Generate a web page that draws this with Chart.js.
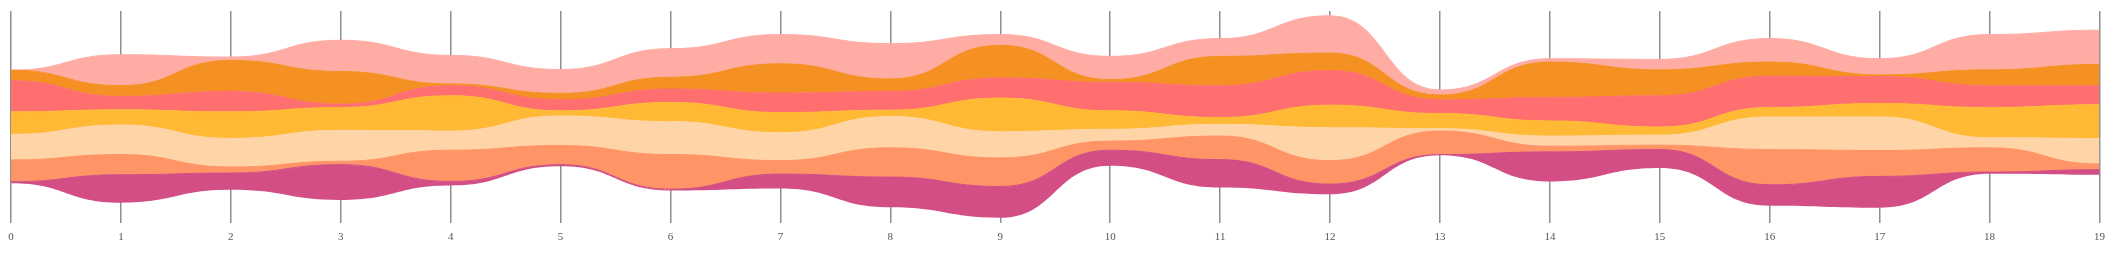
<!DOCTYPE html>
<html>
<head>
<meta charset="utf-8">
<title>Streamgraph</title>
<script src="https://cdn.jsdelivr.net/npm/chart.js@4.4.1/dist/chart.umd.min.js"></script>
<style>
  html, body { margin: 0; padding: 0; background: #ffffff; }
  #wrap { width: 2113px; height: 269px; }
</style>
</head>
<body>
<div id="wrap"><canvas id="streamChart" width="2113" height="269"></canvas></div>
<script>
// Datos del streamgraph (grosor de cada capa)
const categories = [0, 1, 2, 3, 4, 5, 6, 7, 8, 9, 10, 11, 12, 13, 14, 15, 16, 17, 18, 19];

// Desplazamiento inferior de la corriente (offset tipo "wiggle")
const baseline = [118, 60, 98, 68, 111, 168, 96, 102, 46, 15, 170, 105, 85, 201, 123, 163, 51, 45, 146, 143];

// Capas, de abajo hacia arriba
const magenta = [4, 83, 50, 105, 12, 5, 4, 43, 90, 93, 46, 83, 30, 2, 88, 55, 62, 93, 5, 15];
const salmon = [65, 60, 18, 10, 93, 57, 103, 40, 87, 85, 27, 70, 70, 70, 17, 13, 105, 77, 72, 17];
const peach = [76, 88, 85, 92, 57, 88, 98, 83, 93, 78, 35, 35, 98, 7, 30, 30, 97, 100, 30, 76];
const yellow = [67, 45, 79, 68, 105, 15, 57, 60, 19, 100, 55, 20, 67, 45, 45, 24, 28, 40, 90, 100];
const coral = [93, 40, 61, 10, 30, 33, 40, 58, 56, 60, 85, 95, 103, 41, 70, 93, 93, 80, 65, 57];
const orange = [31, 32, 92, 97, 5, 19, 35, 87, 37, 97, 8, 87, 52, 14, 105, 77, 42, 5, 47, 63];
const pink = [0, 92, 10, 93, 85, 71, 85, 87, 105, 32, 69, 53, 111, 15, 10, 31, 70, 48, 105, 102];

const layers = [
  { name: "magenta", data: magenta, color: "#d34e85" },
  { name: "salmon", data: salmon, color: "#ff9567" },
  { name: "peach", data: peach, color: "#ffd4a6" },
  { name: "yellow", data: yellow, color: "#ffb934" },
  { name: "coral", data: coral, color: "#ff6f6f" },
  { name: "orange", data: orange, color: "#f49122" },
  { name: "pink", data: pink, color: "#ffada4" },
];

// Convertir a puntos {x, y}
function toPoints(values) {
  return values.map((v, i) => ({ x: categories[i], y: v }));
}

// Plugin: curvas tipo "bump" (tangente horizontal en cada punto)
const bumpCurve = {
  id: "bumpCurve",
  beforeDatasetsDraw(chart) {
    chart.getSortedVisibleDatasetMetas().forEach((meta) => {
      const line = meta.dataset;
      if (!line) return;
      line.updateControlPoints(chart.chartArea, "x");
      const pts = meta.data;
      for (let i = 0; i < pts.length; i++) {
        const p = pts[i];
        const prev = pts[i - 1];
        const next = pts[i + 1];
        p.cp1x = prev ? (prev.x + p.x) / 2 : p.x;
        p.cp1y = p.y;
        p.cp2x = next ? (next.x + p.x) / 2 : p.x;
        p.cp2y = p.y;
      }
    });
  },
};

// Datasets: primero la línea base invisible, luego las capas apiladas
const datasets = [
  {
    label: "base",
    data: toPoints(baseline),
    borderWidth: 0,
    pointRadius: 0,
    fill: false,
    tension: 0.4,
  },
];

layers.forEach((layer) => {
  datasets.push({
    label: layer.name,
    data: toPoints(layer.data),
    backgroundColor: layer.color,
    borderColor: layer.color,
    borderWidth: 1,
    pointRadius: 0,
    fill: "-1",
    tension: 0.4,
  });
});

new Chart(document.getElementById("streamChart"), {
  type: "line",
  data: { datasets: datasets },
  plugins: [bumpCurve],
  options: {
    responsive: false,
    animation: false,
    layout: {
      padding: { left: 11, right: 12, top: 11, bottom: 17 },
    },
    plugins: {
      legend: { display: false },
      tooltip: { enabled: false },
    },
    scales: {
      x: {
        type: "linear",
        min: 0,
        max: 19,
        border: { display: false },
        grid: {
          color: "#8e8e8e",
          lineWidth: 1.5,
          drawTicks: false,
        },
        ticks: {
          stepSize: 1,
          padding: 8,
          color: "#555555",
          font: { family: "Liberation Serif", size: 11 },
        },
      },
      y: {
        display: false,
        stacked: true,
        min: 0,
        max: 630,
      },
    },
  },
});
</script>
</body>
</html>
